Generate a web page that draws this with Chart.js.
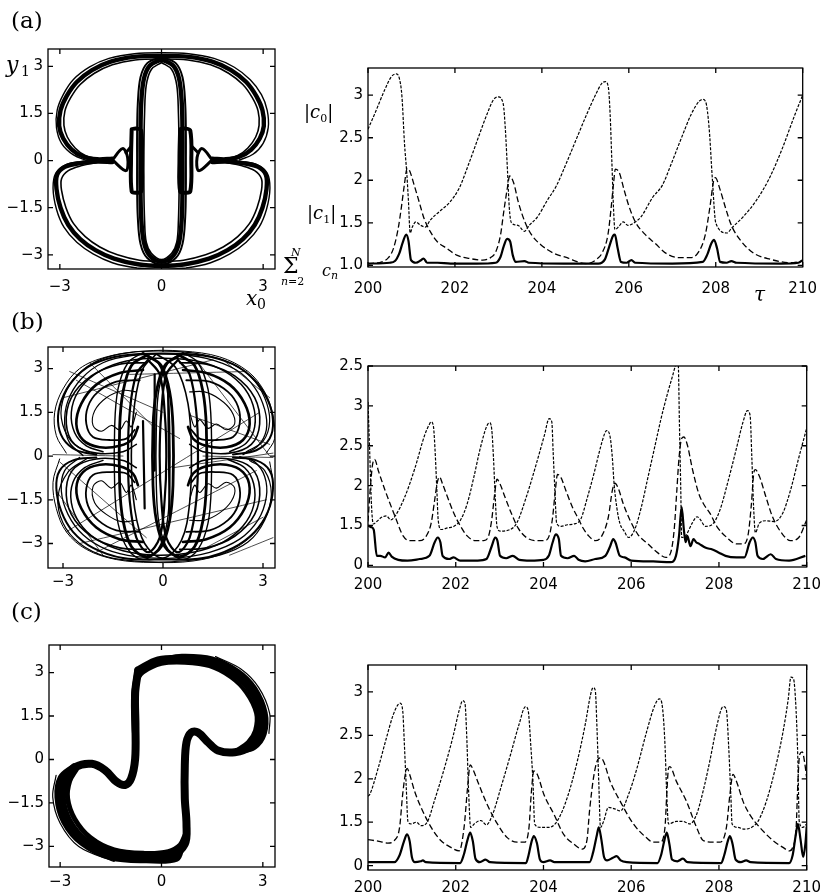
<!DOCTYPE html>
<html lang="en">
<head>
<meta charset="utf-8">
<title>Phase portraits and mode amplitudes</title>
<script src="https://cdn.jsdelivr.net/npm/chart.js@4.4.1/dist/chart.umd.min.js"></script>
<style>
html,body{margin:0;padding:0;background:#fff;}
body{width:830px;height:892px;position:relative;overflow:hidden;}
canvas{position:absolute;}
.t{position:absolute;font-family:"DejaVu Serif",serif;color:#000;line-height:1;white-space:nowrap;will-change:transform;}
.i{font-style:italic;}
</style>
</head>
<body>
<div class="t" style="left:11px;top:9px;font-size:23px">(a)</div>
<div class="t" style="left:11px;top:310px;font-size:23px">(b)</div>
<div class="t" style="left:11px;top:600px;font-size:23px">(c)</div>
<div class="t i" style="left:6px;top:54px;font-size:22px">y</div>
<div class="t" style="left:21px;top:64px;font-size:14px">1</div>
<div class="t i" style="left:246px;top:288px;font-size:20px">x</div>
<div class="t" style="left:257px;top:297px;font-size:14px">0</div>
<div class="t" style="left:304px;top:103px;font-size:18px">|<span class="i">c</span><span style="font-size:11px;position:relative;top:4px">0</span>|</div>
<div class="t" style="left:307px;top:204px;font-size:18px">|<span class="i">c</span><span style="font-size:11px;position:relative;top:4px">1</span>|</div>
<div class="t" style="left:283px;top:255px;font-size:22px">&Sigma;</div>
<div class="t i" style="left:291px;top:247px;font-size:11px">N</div>
<div class="t" style="left:281px;top:276px;font-size:11px"><span class="i">n</span>=2</div>
<div class="t i" style="left:322px;top:263px;font-size:16px">c</div>
<div class="t i" style="left:331px;top:270px;font-size:11px">n</div>
<div class="t i" style="left:754px;top:284px;font-size:20px">&tau;</div>
<script>
// ---------- tick values and labels ----------
const leftXTicks = [-3, 0, 3];
const leftXLabels = ['\u22123', '0', '3'];
const leftYTicks = [-3, -1.5, 0, 1.5, 3];
const leftYLabels = ['\u22123', '\u22121.5', '0', '1.5', '3'];
const timeTicks = [200, 202, 204, 206, 208, 210];
const timeLabels = ['200', '202', '204', '206', '208', '210'];
const aAmpTicks = [1, 1.5, 2, 2.5, 3];
const aAmpLabels = ['1.0', '1.5', '2', '2.5', '3'];
const bAmpTicks = [1, 1.5, 2, 2.5, 3, 3.5];
const bAmpLabels = ['0', '1.5', '2', '2.5', '3', '2.5'];
const cAmpTicks = [1, 1.5, 2, 2.5, 3];
const cAmpLabels = ['0', '1.5', '2', '2.5', '3'];

// ---------- (a) time series: [tau, value] ----------
const aC0 = [[200.0,2.60],[200.17,2.80],[200.39,3.07],[200.54,3.22],[200.65,3.25],[200.72,3.20],[200.78,2.99],[200.84,2.43],[200.89,2.10],[200.93,1.76],[200.97,1.38],[201.02,1.45],[201.1,1.51],[201.21,1.47],[201.32,1.45],[201.43,1.53],[201.66,1.64],[201.88,1.74],[202.1,1.91],[202.33,2.21],[202.55,2.52],[202.74,2.78],[202.89,2.95],[203.0,2.98],[203.11,2.90],[203.16,2.60],[203.21,2.10],[203.25,1.68],[203.3,1.50],[203.45,1.47],[203.6,1.40],[203.71,1.47],[203.9,1.57],[204.12,1.76],[204.34,1.94],[204.57,2.21],[204.79,2.48],[205.01,2.75],[205.24,3.01],[205.38,3.14],[205.46,3.16],[205.53,3.09],[205.57,2.78],[205.61,2.22],[205.65,1.65],[205.68,1.42],[205.76,1.45],[205.87,1.51],[205.98,1.47],[206.09,1.49],[206.28,1.57],[206.55,1.80],[206.77,1.94],[206.99,2.21],[207.22,2.51],[207.44,2.78],[207.62,2.93],[207.7,2.95],[207.77,2.92],[207.85,2.60],[207.92,2.03],[208.0,1.50],[208.26,1.38],[208.37,1.44],[208.63,1.57],[208.93,1.76],[209.23,2.02],[209.52,2.36],[209.82,2.77],[210.0,3.00]];
const aC1 = [[200.0,1.02],[200.32,1.04],[200.47,1.09],[200.58,1.19],[200.69,1.42],[200.77,1.69],[200.84,1.96],[200.9,2.14],[200.95,2.12],[201.07,1.93],[201.18,1.74],[201.29,1.55],[201.44,1.39],[201.59,1.28],[201.81,1.2],[202.04,1.12],[202.34,1.08],[202.64,1.06],[202.82,1.09],[202.94,1.16],[203.05,1.36],[203.12,1.62],[203.2,1.89],[203.26,2.05],[203.35,1.97],[203.46,1.74],[203.61,1.51],[203.76,1.36],[203.98,1.24],[204.28,1.14],[204.58,1.09],[204.88,1.03],[205.03,1.02],[205.26,1.07],[205.4,1.16],[205.52,1.36],[205.59,1.66],[205.65,1.97],[205.69,2.13],[205.78,2.09],[205.89,1.89],[206.0,1.7],[206.15,1.51],[206.38,1.36],[206.6,1.26],[206.86,1.14],[207.16,1.09],[207.42,1.09],[207.61,1.16],[207.76,1.36],[207.87,1.7],[207.95,1.99],[207.99,2.03],[208.1,1.89],[208.21,1.7],[208.36,1.47],[208.59,1.28],[208.88,1.14],[209.26,1.07],[209.71,1.03],[210.0,1.05]];
const aSum = [[200.0,1.02],[200.5,1.03],[200.62,1.05],[200.72,1.14],[200.8,1.27],[200.88,1.36],[200.93,1.29],[200.99,1.06],[201.1,1.03],[201.22,1.06],[201.28,1.08],[201.36,1.03],[201.6,1.03],[201.9,1.02],[202.5,1.02],[202.94,1.03],[203.05,1.10],[203.12,1.22],[203.2,1.31],[203.27,1.28],[203.33,1.12],[203.4,1.04],[203.6,1.05],[203.7,1.03],[204.5,1.02],[205.3,1.02],[205.45,1.07],[205.55,1.22],[205.64,1.35],[205.68,1.36],[205.74,1.21],[205.82,1.04],[205.95,1.03],[206.06,1.06],[206.15,1.03],[207.0,1.02],[207.7,1.04],[207.8,1.12],[207.9,1.26],[207.96,1.30],[208.03,1.20],[208.1,1.04],[208.25,1.03],[208.36,1.05],[208.48,1.03],[209.5,1.02],[209.9,1.03],[210.0,1.06]];

// ---------- (b) time series ----------
const bC0 = [[200.0,3.05],[200.04,2.4],[200.08,1.75],[200.12,1.52],[200.2,1.55],[200.3,1.6],[200.42,1.62],[200.52,1.57],[200.62,1.62],[200.84,1.86],[201.07,2.22],[201.29,2.63],[201.4,2.77],[201.44,2.80],[201.49,2.75],[201.53,2.43],[201.57,1.94],[201.6,1.57],[201.67,1.45],[201.81,1.47],[201.96,1.49],[202.11,1.57],[202.26,1.77],[202.41,2.10],[202.56,2.47],[202.71,2.75],[202.77,2.79],[202.82,2.71],[202.86,2.35],[202.9,1.86],[202.94,1.49],[203.01,1.43],[203.24,1.45],[203.39,1.53],[203.61,1.86],[203.83,2.26],[204.02,2.63],[204.13,2.84],[204.19,2.80],[204.22,2.43],[204.26,1.94],[204.3,1.53],[204.4,1.49],[204.55,1.51],[204.7,1.52],[204.85,1.58],[205.0,1.85],[205.15,2.15],[205.3,2.48],[205.4,2.66],[205.44,2.69],[205.52,2.61],[205.57,2.35],[205.61,2.02],[205.67,1.73],[205.74,1.53],[205.84,1.43],[205.94,1.35],[206.08,1.45],[206.23,1.73],[206.38,2.10],[206.53,2.47],[206.68,2.84],[206.83,3.16],[206.94,3.37],[207.02,3.52],[207.07,3.55],[207.1,2.75],[207.13,1.94],[207.15,1.35],[207.24,1.37],[207.39,1.53],[207.5,1.61],[207.58,1.57],[207.69,1.49],[207.84,1.51],[208.02,1.69],[208.21,2.06],[208.4,2.47],[208.55,2.80],[208.65,2.94],[208.71,2.88],[208.75,2.35],[208.79,1.73],[208.83,1.41],[208.92,1.53],[209.07,1.56],[209.26,1.55],[209.45,1.65],[209.63,1.94],[209.82,2.35],[210.0,2.72]];
const bC1 = [[200.0,1.55],[200.05,1.95],[200.1,2.25],[200.15,2.33],[200.24,2.18],[200.39,1.94],[200.62,1.61],[200.8,1.37],[200.95,1.31],[201.18,1.31],[201.33,1.37],[201.44,1.53],[201.52,1.82],[201.58,2.04],[201.63,2.11],[201.7,2.02],[201.81,1.86],[201.96,1.65],[202.11,1.49],[202.26,1.37],[202.45,1.31],[202.64,1.31],[202.75,1.37],[202.82,1.57],[202.88,1.86],[202.94,2.08],[203.01,2.02],[203.12,1.86],[203.27,1.65],[203.42,1.47],[203.61,1.35],[203.83,1.31],[204.02,1.31],[204.13,1.37],[204.21,1.61],[204.27,1.94],[204.32,2.14],[204.4,2.10],[204.51,1.94],[204.66,1.73],[204.81,1.57],[204.88,1.49],[205.03,1.37],[205.18,1.31],[205.33,1.37],[205.48,1.61],[205.57,1.94],[205.63,2.03],[205.71,1.96],[205.82,1.77],[205.97,1.57],[206.15,1.39],[206.38,1.27],[206.6,1.16],[206.79,1.10],[206.9,1.16],[206.98,1.45],[207.04,1.94],[207.09,2.35],[207.15,2.59],[207.2,2.61],[207.28,2.51],[207.39,2.22],[207.54,1.90],[207.65,1.77],[207.8,1.65],[207.95,1.49],[208.18,1.35],[208.4,1.27],[208.55,1.27],[208.66,1.37],[208.74,1.77],[208.79,2.14],[208.83,2.20],[208.92,2.12],[209.07,1.86],[209.22,1.61],[209.45,1.39],[209.63,1.31],[209.82,1.35],[210.0,1.57]];
const bSum = [[200.0,1.5],[200.07,1.48],[200.13,1.45],[200.2,1.12],[200.28,1.12],[200.39,1.10],[200.47,1.16],[200.54,1.11],[200.69,1.07],[200.9,1.06],[201.18,1.08],[201.4,1.12],[201.52,1.29],[201.59,1.35],[201.65,1.29],[201.7,1.12],[201.85,1.08],[201.95,1.10],[202.1,1.06],[202.5,1.06],[202.7,1.08],[202.82,1.24],[202.9,1.35],[202.95,1.31],[203.01,1.12],[203.15,1.09],[203.3,1.12],[203.45,1.07],[203.7,1.06],[204.0,1.07],[204.12,1.12],[204.21,1.29],[204.28,1.39],[204.35,1.33],[204.4,1.12],[204.55,1.09],[204.7,1.12],[204.8,1.07],[204.95,1.05],[205.18,1.08],[205.41,1.12],[205.52,1.24],[205.59,1.33],[205.64,1.29],[205.74,1.12],[205.85,1.10],[206.0,1.06],[206.5,1.05],[206.9,1.04],[207.02,1.12],[207.09,1.37],[207.15,1.73],[207.2,1.45],[207.24,1.29],[207.28,1.37],[207.35,1.24],[207.42,1.33],[207.48,1.29],[207.55,1.27],[207.7,1.22],[207.85,1.2],[208.0,1.16],[208.15,1.12],[208.4,1.10],[208.58,1.10],[208.7,1.29],[208.77,1.35],[208.83,1.29],[208.88,1.12],[209.0,1.08],[209.18,1.14],[209.3,1.08],[209.6,1.06],[209.97,1.12]];

// ---------- (c) time series ----------
const cC0 = [[200.0,1.80],[200.04,1.82],[200.23,2.12],[200.42,2.47],[200.57,2.73],[200.68,2.85],[200.73,2.87],[200.79,2.79],[200.83,2.39],[200.87,1.93],[200.91,1.51],[200.98,1.48],[201.1,1.50],[201.21,1.46],[201.36,1.51],[201.51,1.74],[201.74,2.12],[201.93,2.47],[202.08,2.79],[202.16,2.90],[202.21,2.87],[202.25,2.50],[202.29,1.90],[202.34,1.44],[202.42,1.48],[202.57,1.52],[202.7,1.47],[202.84,1.59],[203.03,1.90],[203.25,2.28],[203.44,2.62],[203.59,2.83],[203.65,2.79],[203.71,2.39],[203.76,1.97],[203.8,1.48],[203.93,1.44],[204.12,1.44],[204.31,1.51],[204.54,1.78],[204.77,2.20],[204.95,2.62],[205.07,2.96],[205.13,3.05],[205.18,3.02],[205.22,2.58],[205.26,1.97],[205.3,1.44],[205.37,1.51],[205.48,1.67],[205.64,1.65],[205.75,1.63],[205.94,1.82],[206.13,2.12],[206.35,2.54],[206.54,2.85],[206.64,2.92],[206.69,2.89],[206.73,2.73],[206.77,2.39],[206.81,1.82],[206.85,1.48],[207.03,1.51],[207.18,1.51],[207.34,1.48],[207.49,1.59],[207.64,1.86],[207.79,2.20],[207.94,2.58],[208.06,2.81],[208.11,2.83],[208.17,2.79],[208.22,2.39],[208.27,1.82],[208.3,1.48],[208.43,1.44],[208.58,1.42],[208.74,1.44],[208.89,1.51],[209.08,1.74],[209.27,2.09],[209.46,2.54],[209.58,2.92],[209.64,3.17],[209.7,3.15],[209.76,2.77],[209.8,2.20],[209.83,1.51],[209.91,1.44],[210.0,1.48]];
const cC1 = [[200.0,1.30],[200.25,1.28],[200.45,1.26],[200.6,1.29],[200.72,1.44],[200.79,1.82],[200.85,2.05],[200.89,2.12],[200.95,2.05],[201.06,1.86],[201.21,1.67],[201.44,1.44],[201.66,1.29],[201.89,1.21],[202.08,1.17],[202.19,1.44],[202.27,1.90],[202.33,2.16],[202.4,2.10],[202.5,1.97],[202.72,1.70],[202.95,1.48],[203.18,1.32],[203.4,1.27],[203.56,1.27],[203.67,1.44],[203.72,1.82],[203.78,2.09],[203.86,2.05],[204.01,1.82],[204.24,1.59],[204.46,1.36],[204.69,1.25],[204.88,1.19],[204.99,1.29],[205.05,1.63],[205.14,2.01],[205.22,2.20],[205.3,2.24],[205.37,2.20],[205.52,1.97],[205.75,1.74],[206.05,1.48],[206.35,1.32],[206.5,1.27],[206.66,1.27],[206.77,1.44],[206.81,1.82],[206.85,2.12],[206.88,2.14],[207.03,1.97],[207.26,1.74],[207.49,1.44],[207.64,1.29],[207.87,1.27],[208.02,1.27],[208.17,1.44],[208.25,1.82],[208.32,2.05],[208.4,1.97],[208.55,1.74],[208.7,1.59],[208.93,1.44],[209.23,1.29],[209.46,1.21],[209.61,1.17],[209.68,1.21],[209.76,1.44],[209.8,1.97],[209.84,2.28],[209.9,2.31],[209.95,2.20],[210.0,2.01]];
const cSum = [[200.0,1.04],[200.6,1.04],[200.72,1.12],[200.82,1.28],[200.89,1.36],[200.95,1.28],[201.0,1.10],[201.07,1.04],[201.2,1.05],[201.25,1.06],[201.32,1.04],[202.1,1.03],[202.18,1.12],[202.27,1.30],[202.33,1.38],[202.39,1.28],[202.45,1.08],[202.55,1.04],[202.68,1.07],[202.78,1.04],[203.6,1.03],[203.66,1.12],[203.73,1.28],[203.78,1.34],[203.85,1.26],[203.92,1.07],[204.0,1.04],[204.15,1.06],[204.25,1.04],[205.05,1.04],[205.13,1.15],[205.22,1.36],[205.26,1.44],[205.32,1.30],[205.38,1.10],[205.45,1.06],[205.58,1.09],[205.67,1.11],[205.76,1.06],[205.9,1.04],[206.6,1.03],[206.68,1.12],[206.76,1.30],[206.81,1.38],[206.87,1.25],[206.93,1.07],[207.05,1.05],[207.18,1.08],[207.28,1.04],[208.05,1.03],[208.12,1.12],[208.2,1.28],[208.25,1.34],[208.31,1.25],[208.38,1.07],[208.5,1.04],[208.62,1.06],[208.72,1.04],[209.6,1.03],[209.68,1.12],[209.75,1.35],[209.8,1.48],[209.86,1.30],[209.92,1.10],[209.97,1.25],[210.0,1.45]];

// ---------- (a) phase portrait curves: [x0, y1] ----------
const aUpper = [[-1.45,0.06],[-1.9,0.04],[-2.3,0.12],[-2.65,0.35],[-2.9,0.7],[-3.02,1.1],[-2.98,1.6],[-2.8,2.05],[-2.5,2.5],[-2.05,2.88],[-1.5,3.15],[-0.8,3.3],[0,3.33],[0.8,3.3],[1.5,3.15],[2.05,2.88],[2.5,2.5],[2.8,2.05],[2.98,1.6],[3.02,1.1],[2.9,0.7],[2.65,0.35],[2.3,0.12],[1.9,0.04],[1.5,0.06]];
const aUpperOut = [[-2.2,0.0],[-2.6,0.18],[-2.95,0.55],[-3.1,1.05],[-3.08,1.6],[-2.9,2.1],[-2.6,2.58],[-2.12,2.98],[-1.55,3.25],[-0.8,3.4],[0,3.43],[0.8,3.4],[1.55,3.25],[2.15,2.97],[2.62,2.57],[2.95,2.1],[3.12,1.6],[3.15,1.05],[3.0,0.55],[2.7,0.2],[2.3,0.02]];
const aUpperIn = [[-1.9,0.06],[-2.25,0.16],[-2.55,0.4],[-2.78,0.75],[-2.88,1.12],[-2.85,1.58],[-2.68,2.0],[-2.4,2.42],[-1.98,2.78],[-1.45,3.05],[-0.78,3.2],[0,3.23],[0.78,3.2],[1.45,3.05],[1.98,2.78],[2.4,2.42],[2.68,2.0],[2.85,1.58],[2.88,1.12],[2.78,0.75],[2.55,0.4],[2.25,0.16],[1.9,0.06]];
const aLower = [[-1.45,-0.05],[-1.9,-0.03],[-2.4,-0.08],[-2.85,-0.2],[-3.08,-0.45],[-3.1,-0.9],[-2.98,-1.5],[-2.75,-2.05],[-2.4,-2.5],[-1.95,-2.85],[-1.4,-3.12],[-0.7,-3.3],[0,-3.35],[0.7,-3.3],[1.4,-3.12],[1.95,-2.85],[2.4,-2.5],[2.75,-2.05],[2.98,-1.5],[3.1,-0.9],[3.08,-0.45],[2.85,-0.2],[2.4,-0.08],[1.9,-0.03],[1.5,-0.05]];
const aLowerOut = [[-2.3,-0.02],[-2.8,-0.12],[-3.12,-0.4],[-3.2,-0.9],[-3.1,-1.55],[-2.88,-2.12],[-2.5,-2.6],[-2.02,-2.97],[-1.45,-3.25],[-0.72,-3.42],[0,-3.46],[0.72,-3.42],[1.45,-3.25],[2.02,-2.97],[2.5,-2.6],[2.88,-2.12],[3.1,-1.55],[3.2,-0.9],[3.12,-0.4],[2.8,-0.12],[2.3,-0.02]];
const aLowerIn = [[-1.9,-0.06],[-2.35,-0.16],[-2.75,-0.32],[-2.95,-0.58],[-2.95,-0.95],[-2.82,-1.5],[-2.6,-2.0],[-2.25,-2.42],[-1.82,-2.75],[-1.3,-3.0],[-0.65,-3.17],[0,-3.2],[0.65,-3.17],[1.3,-3.0],[1.82,-2.75],[2.25,-2.42],[2.6,-2.0],[2.82,-1.5],[2.95,-0.95],[2.95,-0.58],[2.75,-0.32],[2.35,-0.16],[1.9,-0.06]];
const aEllipse = [[0,3.22],[0.35,3.02],[0.52,2.6],[0.6,1.8],[0.62,0.8],[0.62,0],[0.62,-0.8],[0.6,-1.8],[0.52,-2.6],[0.35,-3.02],[0,-3.22],[-0.35,-3.02],[-0.52,-2.6],[-0.6,-1.8],[-0.62,-0.8],[-0.62,0],[-0.62,0.8],[-0.6,1.8],[-0.52,2.6],[-0.35,3.02],[0,3.22]];
const aEllipseOut = [[0,3.3],[0.42,3.1],[0.62,2.65],[0.7,1.8],[0.72,0.8],[0.72,0],[0.72,-0.8],[0.7,-1.8],[0.62,-2.65],[0.42,-3.1],[0,-3.3],[-0.42,-3.1],[-0.62,-2.65],[-0.7,-1.8],[-0.72,-0.8],[-0.72,0],[-0.72,0.8],[-0.7,1.8],[-0.62,2.65],[-0.42,3.1],[0,3.3]];
const aEllipseIn = [[0,3.12],[0.3,2.9],[0.45,2.4],[0.5,1.5],[0.52,0.3],[0.52,-0.9],[0.5,-1.9],[0.45,-2.6],[0.3,-2.95],[0,-3.15],[-0.3,-2.95],[-0.45,-2.6],[-0.5,-1.9],[-0.52,-0.9],[-0.52,0.3],[-0.5,1.5],[-0.45,2.4],[-0.3,2.9],[0,3.12]];
const aBarLeft = [[-0.88,1.0],[-0.75,1.02],[-0.6,0.95],[-0.58,0],[-0.6,-0.98],[-0.75,-1.02],[-0.88,-0.98],[-0.9,0],[-0.88,1.0]];
const aBarRight = [[0.55,1.0],[0.7,1.02],[0.85,0.95],[0.88,0],[0.85,-0.98],[0.7,-1.02],[0.55,-0.98],[0.53,0],[0.55,1.0]];
const aTriLeft = [[-1.45,0.02],[-1.15,0.38],[-1.0,0.1],[-1.05,-0.32],[-1.45,0.02]];
const aTriRight = [[1.5,0.02],[1.2,0.38],[1.05,0.1],[1.1,-0.32],[1.5,0.02]];
const aLinkLeft = [[-1.05,0.25],[-0.9,0.45]];
const aLinkRight = [[1.08,0.25],[0.9,0.45]];

// ---------- (b) phase portrait curves ----------
const bUp1 = [[-2.0,0.05],[-2.6,0.2],[-3.0,0.6],[-3.15,1.2],[-3.05,1.9],[-2.7,2.6],[-2.1,3.15],[-1.2,3.45],[0,3.52],[1.2,3.45],[2.1,3.15],[2.75,2.6],[3.15,1.9],[3.3,1.2],[3.2,0.6],[2.8,0.2],[2.1,0.05]];
const bUp2 = [[-2.4,0.02],[-2.8,0.45],[-2.95,1.1],[-2.85,1.9],[-2.45,2.65],[-1.8,3.2],[-0.9,3.45],[0.2,3.5],[1.3,3.35],[2.2,2.95],[2.75,2.35],[3.05,1.6],[3.1,0.9],[2.85,0.35],[2.4,0.05]];
const bUp3 = [[-2.9,0.1],[-3.2,0.7],[-3.25,1.5],[-3.0,2.3],[-2.5,3.0],[-1.7,3.4],[-0.6,3.6],[0.6,3.6],[1.7,3.4],[2.55,2.9],[3.05,2.2],[3.3,1.4],[3.35,0.6],[3.1,0.1]];
const bUp4 = [[-1.8,0.15],[-2.3,0.35],[-2.65,0.8],[-2.75,1.5],[-2.55,2.2],[-2.05,2.8],[-1.3,3.2],[-0.3,3.35],[0.8,3.3],[1.7,3.0],[2.35,2.45],[2.7,1.75],[2.75,1.0],[2.5,0.45],[2.0,0.15]];
const bUp5 = [[-2.2,0.1],[-2.75,0.5],[-3.05,1.3],[-2.95,2.1],[-2.55,2.8],[-1.9,3.3],[-1.0,3.55],[0.1,3.6],[1.1,3.5],[2.0,3.2],[2.65,2.7],[3.05,2.0],[3.2,1.2],[3.0,0.5],[2.5,0.15]];
const bLo1 = [[-2.0,-0.05],[-2.7,-0.15],[-3.1,-0.5],[-3.2,-1.1],[-3.05,-1.9],[-2.7,-2.6],[-2.1,-3.15],[-1.2,-3.5],[0,-3.55],[1.2,-3.5],[2.1,-3.15],[2.75,-2.6],[3.15,-1.9],[3.3,-1.1],[3.2,-0.5],[2.8,-0.15],[2.1,-0.05]];
const bLo2 = [[-2.5,-0.05],[-2.95,-0.5],[-3.05,-1.2],[-2.85,-2.0],[-2.4,-2.7],[-1.7,-3.2],[-0.8,-3.45],[0.3,-3.5],[1.4,-3.3],[2.3,-2.85],[2.85,-2.2],[3.1,-1.4],[3.05,-0.7],[2.75,-0.2],[2.3,-0.02]];
const bLo3 = [[-3.1,-0.1],[-3.3,-0.9],[-3.2,-1.8],[-2.9,-2.6],[-2.3,-3.2],[-1.4,-3.55],[-0.3,-3.65],[0.9,-3.6],[1.9,-3.3],[2.7,-2.7],[3.15,-1.9],[3.3,-1.0],[3.2,-0.2]];
const bLo4 = [[-1.8,-0.15],[-2.35,-0.4],[-2.7,-0.9],[-2.75,-1.6],[-2.5,-2.3],[-2.0,-2.85],[-1.2,-3.25],[-0.2,-3.4],[0.9,-3.3],[1.8,-2.95],[2.4,-2.4],[2.72,-1.7],[2.72,-0.95],[2.45,-0.4],[1.95,-0.12]];
const bLo5 = [[-2.3,-0.1],[-2.85,-0.55],[-3.15,-1.4],[-3.0,-2.3],[-2.5,-3.0],[-1.7,-3.45],[-0.6,-3.62],[0.6,-3.6],[1.7,-3.4],[2.55,-2.95],[3.05,-2.2],[3.25,-1.3],[3.05,-0.5],[2.6,-0.15]];
const bCen1 = [[-0.5,3.45],[-0.05,3.1],[0.2,2.2],[0.3,1.0],[0.3,-1.0],[0.2,-2.2],[-0.05,-3.1],[-0.5,-3.45],[-0.95,-3.1],[-1.2,-2.2],[-1.3,-1.0],[-1.3,1.0],[-1.2,2.2],[-0.95,3.1],[-0.5,3.45]];
const bCen2 = [[0.5,3.45],[0.95,3.1],[1.2,2.2],[1.3,1.0],[1.3,-1.0],[1.2,-2.2],[0.95,-3.1],[0.5,-3.45],[0.05,-3.1],[-0.2,-2.2],[-0.3,-1.0],[-0.3,1.0],[-0.2,2.2],[0.05,3.1],[0.5,3.45]];
const bCen3 = [[-0.45,3.3],[-0.1,2.8],[0.05,1.5],[0.1,0],[0.05,-1.5],[-0.1,-2.8],[-0.45,-3.3],[-0.8,-2.8],[-1.0,-1.5],[-1.05,0],[-1.0,1.5],[-0.8,2.8],[-0.45,3.3]];
const bCen4 = [[0.45,3.3],[0.8,2.8],[1.0,1.5],[1.05,0],[1.0,-1.5],[0.8,-2.8],[0.45,-3.3],[0.1,-2.8],[-0.05,-1.5],[-0.1,0],[-0.05,1.5],[0.1,2.8],[0.45,3.3]];
const bCen5 = [[-0.2,3.5],[0.4,3.0],[0.75,1.8],[0.85,0.2],[0.8,-1.6],[0.55,-2.9],[0.0,-3.5],[-0.55,-3.0],[-0.85,-1.8],[-0.95,0.0],[-0.85,1.8],[-0.6,3.0],[-0.2,3.5]];
const bCen6 = [[-0.6,3.55],[-0.15,3.2],[0.12,2.3],[0.2,1.0],[0.2,-1.0],[0.12,-2.3],[-0.15,-3.2],[-0.6,-3.55],[-1.05,-3.2],[-1.35,-2.3],[-1.45,-1.0],[-1.45,1.0],[-1.35,2.3],[-1.05,3.2],[-0.6,3.55]];
const bCen7 = [[0.6,3.55],[1.05,3.2],[1.35,2.3],[1.45,1.0],[1.45,-1.0],[1.35,-2.3],[1.05,-3.2],[0.6,-3.55],[0.15,-3.2],[-0.12,-2.3],[-0.2,-1.0],[-0.2,1.0],[-0.12,2.3],[0.15,3.2],[0.6,3.55]];
const bHeart1 = [[-0.6,2.95],[-1.3,2.85],[-2.0,2.45],[-2.45,1.8],[-2.6,1.1],[-2.4,0.55],[-1.9,0.3],[-1.3,0.35],[-0.9,0.6],[-0.75,1.0]];
const bHeart1o = [[-0.5,3.2],[-1.3,3.15],[-2.15,2.75],[-2.75,2.0],[-2.9,1.1],[-2.65,0.4],[-2.0,0.1],[-1.2,0.15],[-0.8,0.4]];
const bHeart1m = [[-0.7,2.6],[-1.4,2.55],[-1.95,2.2],[-2.25,1.7],[-2.3,1.1],[-2.1,0.65],[-1.6,0.55],[-1.1,0.6],[-0.85,0.9]];
const bHeart1i = [[-0.8,2.2],[-1.2,2.25],[-1.7,2.0],[-2.05,1.55],[-2.1,1.05],[-1.85,0.85],[-1.55,1.05],[-1.3,0.9],[-1.1,1.2],[-0.95,1.0],[-0.8,1.5]];
const bHeart2 = [[0.6,2.95],[1.3,2.85],[2.0,2.45],[2.45,1.8],[2.6,1.1],[2.4,0.55],[1.9,0.3],[1.3,0.35],[0.9,0.6],[0.75,1.0]];
const bHeart2o = [[0.5,3.2],[1.3,3.15],[2.15,2.75],[2.75,2.0],[2.9,1.1],[2.65,0.4],[2.0,0.1],[1.2,0.15],[0.8,0.4]];
const bHeart2m = [[0.7,2.6],[1.4,2.55],[1.95,2.2],[2.25,1.7],[2.3,1.1],[2.1,0.65],[1.6,0.55],[1.1,0.6],[0.85,0.9]];
const bHeart2i = [[0.8,2.2],[1.25,2.2],[1.7,1.95],[2.05,1.55],[2.15,1.1],[1.9,0.9],[1.6,1.1],[1.35,0.95],[1.1,1.25],[0.95,1.0],[0.8,1.5]];
const bHeart3 = [[-0.6,-2.95],[-1.3,-2.85],[-2.0,-2.45],[-2.45,-1.8],[-2.6,-1.1],[-2.4,-0.55],[-1.9,-0.3],[-1.3,-0.35],[-0.9,-0.6],[-0.75,-1.0]];
const bHeart3o = [[-0.5,-3.2],[-1.3,-3.15],[-2.15,-2.75],[-2.75,-2.0],[-2.9,-1.1],[-2.65,-0.4],[-2.0,-0.1],[-1.2,-0.15],[-0.8,-0.4]];
const bHeart3m = [[-0.7,-2.6],[-1.4,-2.55],[-1.95,-2.2],[-2.25,-1.7],[-2.3,-1.1],[-2.1,-0.65],[-1.6,-0.55],[-1.1,-0.6],[-0.85,-0.9]];
const bHeart3i = [[-0.8,-2.2],[-1.25,-2.25],[-1.7,-2.0],[-2.05,-1.6],[-2.1,-1.05],[-1.85,-0.85],[-1.55,-1.1],[-1.3,-0.9],[-1.1,-1.25],[-0.95,-1.0],[-0.8,-1.5]];
const bHeart4 = [[0.6,-2.95],[1.3,-2.85],[2.0,-2.45],[2.45,-1.8],[2.6,-1.1],[2.4,-0.55],[1.9,-0.3],[1.3,-0.35],[0.9,-0.6],[0.75,-1.0]];
const bHeart4o = [[0.5,-3.2],[1.3,-3.15],[2.15,-2.75],[2.75,-2.0],[2.9,-1.1],[2.65,-0.4],[2.0,-0.1],[1.2,-0.15],[0.8,-0.4]];
const bHeart4m = [[0.7,-2.6],[1.4,-2.55],[1.95,-2.2],[2.25,-1.7],[2.3,-1.1],[2.1,-0.65],[1.6,-0.55],[1.1,-0.6],[0.85,-0.9]];
const bHeart4i = [[0.8,-2.2],[1.25,-2.2],[1.7,-1.95],[2.05,-1.55],[2.15,-1.1],[1.9,-0.9],[1.6,-1.1],[1.35,-0.95],[1.1,-1.25],[0.95,-1.0],[0.8,-1.5]];
const bStrays = [
  [[-2.9,-2.6],[2.9,1.5]], [[-3.0,2.0],[1.5,3.3]], [[1.0,3.3],[3.2,0.0]], [[-2.5,-3.0],[3.1,-1.5]],
  [[-1.0,2.8],[2.5,2.9]], [[0.3,-0.4],[3.3,0.1]], [[-3.1,-0.2],[-0.5,-2.8]], [[-2.6,2.6],[0.5,0.6]],
  [[1.2,-3.2],[3.0,-2.1]], [[-2.0,-3.3],[2.8,-0.5]], [[-2.2,3.2],[-0.2,0.9]], [[0.8,1.4],[3.2,0.4]],
  [[-3.3,0.05],[-1.2,0.0]], [[1.2,0.0],[3.3,-0.05]], [[-2.8,2.9],[0.0,1.5]], [[1.8,3.3],[3.2,2.0]],
  [[2.0,-3.4],[3.3,-2.8]], [[-3.2,-1.2],[-1.8,-3.4]]
];
const bCore = [[[-0.25,2.8],[-0.25,-0.5]], [[0.15,2.5],[0.2,-2.0]], [[-0.6,1.2],[-0.55,-1.8]]];

// ---------- (c) phase portrait curves ----------
const cMid = [[-0.69,3.08],[-0.10,3.42],[0.69,3.47],[1.47,3.36],[2.17,2.96],[2.65,2.40],[2.95,1.61],[2.90,0.93],[2.65,0.47],[2.17,0.25],[1.67,0.31],[1.38,0.59],[1.08,0.93],[0.88,0.93],[0.74,0.59],[0.69,-0.20],[0.69,-1.34],[0.74,-2.24],[0.69,-2.92],[0.29,-3.32],[-0.49,-3.37],[-1.47,-3.26],[-2.26,-2.81],[-2.75,-2.13],[-2.95,-1.34],[-2.85,-0.66],[-2.55,-0.26],[-2.06,-0.15],[-1.67,-0.37],[-1.33,-0.77],[-1.08,-0.88],[-0.90,-0.66],[-0.78,0.02],[-0.77,1.15],[-0.78,2.29],[-0.69,3.08]];
const cOutTop = [[0.0,3.44],[0.6,3.56],[1.5,3.47],[2.25,3.05],[2.76,2.45],[3.07,1.6],[3.04,0.88],[2.75,0.42],[2.25,0.26]];
const cEdgeTop = [[1.6,3.55],[2.35,3.12],[2.88,2.48],[3.2,1.6],[3.18,0.9]];
const cInTop = [[-0.74,2.7],[-0.55,3.0],[0.0,3.3],[0.69,3.34],[1.42,3.22],[2.05,2.84],[2.5,2.32],[2.8,1.6],[2.77,1.0],[2.56,0.6],[2.2,0.3]];
const cOutBot = [[0.6,-3.0],[0.45,-3.42],[-0.45,-3.48],[-1.5,-3.38],[-2.36,-2.88],[-2.88,-2.15],[-3.08,-1.3],[-2.98,-0.62],[-2.6,-0.24]];
const cEdgeBot = [[-1.4,-3.52],[-2.45,-3.0],[-3.0,-2.2],[-3.22,-1.3],[-3.12,-0.55]];
const cInBot = [[0.7,-2.6],[0.55,-2.95],[0.2,-3.18],[-0.5,-3.24],[-1.4,-3.12],[-2.1,-2.7],[-2.57,-2.05],[-2.78,-1.34],[-2.72,-0.75],[-2.5,-0.3]];
const cStemTop = [[-0.74,3.05],[-0.84,2.2],[-0.83,1.2],[-0.78,0.4]];

// ---------- helpers ----------
Chart.defaults.font.family = '"DejaVu Sans", sans-serif';
Chart.defaults.font.size = 15;
Chart.defaults.color = '#000';

const toPts = arr => arr.map(p => ({x: p[0], y: p[1]}));
function curve(arr, w) {
  return {data: toPts(arr), showLine: true, borderColor: '#000', backgroundColor: '#000',
    borderWidth: w, pointRadius: 0, pointHoverRadius: 0,
    tension: 0.35, fill: false, borderCapStyle: 'round', borderJoinStyle: 'round'};
}
function series(arr, w, dash) {
  return {data: toPts(arr), showLine: true, borderColor: '#000', borderWidth: w,
    borderDash: dash || [], pointRadius: 0, pointHoverRadius: 0,
    cubicInterpolationMode: 'monotone', fill: false};
}

const framePlugin = {
  id: 'frame',
  afterDatasetsDraw(chart) {
    const {ctx, chartArea: a, scales} = chart;
    ctx.save();
    ctx.strokeStyle = '#000';
    ctx.lineWidth = 1.3;
    ctx.setLineDash([]);
    ctx.strokeRect(a.left, a.top, a.right - a.left, a.bottom - a.top);
    const L = 5;
    ctx.beginPath();
    scales.x.ticks.forEach(t => {
      const px = scales.x.getPixelForValue(t.value);
      ctx.moveTo(px, a.bottom); ctx.lineTo(px, a.bottom - L);
      ctx.moveTo(px, a.top); ctx.lineTo(px, a.top + L);
    });
    scales.y.ticks.forEach(t => {
      const py = scales.y.getPixelForValue(t.value);
      ctx.moveTo(a.left, py); ctx.lineTo(a.left + L, py);
      ctx.moveTo(a.right, py); ctx.lineTo(a.right - L, py);
    });
    ctx.stroke();
    ctx.restore();
  }
};

function panel(cfg) {
  const PT = 10, AXB = 34;
  const cw = cfg.axl + cfg.box.w + cfg.pr, ch = PT + cfg.box.h + AXB;
  const c = document.createElement('canvas');
  c.width = cw; c.height = ch;
  c.style.left = (cfg.box.l - cfg.axl) + 'px';
  c.style.top = (cfg.box.t - PT) + 'px';
  c.style.width = cw + 'px'; c.style.height = ch + 'px';
  document.body.appendChild(c);
  new Chart(c, {
    type: 'scatter',
    data: {datasets: cfg.datasets},
    options: {
      responsive: false, animation: false, devicePixelRatio: 1,
      events: [],
      layout: {padding: {left: 0, top: PT, right: cfg.pr, bottom: 0}},
      plugins: {legend: {display: false}, tooltip: {enabled: false}},
      scales: {
        x: {type: 'linear', min: cfg.xr[0], max: cfg.xr[1],
          grid: {display: false, drawTicks: false}, border: {display: false},
          afterBuildTicks: s => { s.ticks = cfg.xt.map(v => ({value: v})); },
          afterFit: s => { s.height = AXB; },
          ticks: {autoSkip: false, maxRotation: 0, minRotation: 0, padding: cfg.xpad, color: '#000',
            callback: (v, i) => cfg.xl[i]}},
        y: {type: 'linear', min: cfg.yr[0], max: cfg.yr[1],
          grid: {display: false, drawTicks: false}, border: {display: false},
          afterBuildTicks: s => { s.ticks = cfg.yt.map(v => ({value: v})); },
          afterFit: s => { s.width = cfg.axl; },
          ticks: {autoSkip: false, padding: 5, color: '#000',
            callback: (v, i) => cfg.yl[i]}}
      }
    },
    plugins: [framePlugin]
  });
}

// ---------- (a) ----------
panel({box: {l: 48, t: 45, w: 227, h: 224}, axl: 48, pr: 20, xpad: 9,
  xr: [-3.35, 3.35], yr: [-3.45, 3.55], xt: leftXTicks, xl: leftXLabels, yt: leftYTicks, yl: leftYLabels,
  datasets: [curve(aUpperOut, 1.4), curve(aUpperIn, 1.6), curve(aUpper, 4.4),
    curve(aLowerOut, 1.4), curve(aLowerIn, 1.6), curve(aLower, 4.4),
    curve(aEllipseOut, 2), curve(aEllipseIn, 1.6), curve(aEllipse, 4.4),
    curve(aBarLeft, 4), curve(aBarRight, 4), curve(aTriLeft, 3), curve(aTriRight, 3),
    curve(aLinkLeft, 3), curve(aLinkRight, 3)]});
panel({box: {l: 368, t: 64, w: 445, h: 203}, axl: 60, pr: 17, xpad: 13,
  xr: [200, 210], yr: [0.98, 3.32], xt: timeTicks, xl: timeLabels, yt: aAmpTicks, yl: aAmpLabels,
  datasets: [series(aC0, 1.2, [3, 1.5]), series(aC1, 1.3, [6, 3]), series(aSum, 2.2)]});

// ---------- (b) ----------
const bSets = [curve(bUp1, 2), curve(bUp2, 1.3), curve(bUp3, 1), curve(bUp4, 1.5), curve(bUp5, 1.2),
  curve(bLo1, 2), curve(bLo2, 1.3), curve(bLo3, 1), curve(bLo4, 1.5), curve(bLo5, 1.2),
  curve(bCen1, 2.8), curve(bCen2, 2.8), curve(bCen3, 2.2), curve(bCen4, 2.2), curve(bCen5, 1.6),
  curve(bCen6, 1.4), curve(bCen7, 1.4),
  curve(bHeart1, 2.6), curve(bHeart1o, 1.6), curve(bHeart1m, 1.8), curve(bHeart1i, 1.1),
  curve(bHeart2, 2.6), curve(bHeart2o, 1.6), curve(bHeart2m, 1.8), curve(bHeart2i, 1.1),
  curve(bHeart3, 2.6), curve(bHeart3o, 1.6), curve(bHeart3m, 1.8), curve(bHeart3i, 1.1),
  curve(bHeart4, 2.6), curve(bHeart4o, 1.6), curve(bHeart4m, 1.8), curve(bHeart4i, 1.1)];
bStrays.forEach(s => bSets.push(curve(s, 0.7)));
bCore.forEach(s => bSets.push(curve(s, 2.2)));
panel({box: {l: 48, t: 343, w: 227, h: 225}, axl: 48, pr: 20, xpad: 5,
  xr: [-3.45, 3.36], yr: [-3.84, 3.74], xt: leftXTicks, xl: leftXLabels, yt: leftYTicks, yl: leftYLabels,
  datasets: bSets});
panel({box: {l: 368, t: 362, w: 445, h: 205}, axl: 60, pr: 17, xpad: 9,
  xr: [200, 210], yr: [0.98, 3.5], xt: timeTicks, xl: timeLabels, yt: bAmpTicks, yl: bAmpLabels,
  datasets: [series(bC0, 1.2, [3, 1.5]), series(bC1, 1.3, [6, 3]), series(bSum, 2.2)]});

// ---------- (c) ----------
panel({box: {l: 49, t: 641, w: 226, h: 226}, axl: 49, pr: 20, xpad: 6,
  xr: [-3.33, 3.36], yr: [-3.71, 3.95], xt: leftXTicks, xl: leftXLabels, yt: leftYTicks, yl: leftYLabels,
  datasets: [curve(cMid, 8), curve(cOutTop, 5), curve(cInTop, 4), curve(cEdgeTop, 1.2),
    curve(cOutBot, 6), curve(cInBot, 5), curve(cEdgeBot, 1.2), curve(cStemTop, 4)]});
panel({box: {l: 368, t: 661, w: 445, h: 209}, axl: 60, pr: 17, xpad: 9,
  xr: [200, 210], yr: [0.95, 3.31], xt: timeTicks, xl: timeLabels, yt: cAmpTicks, yl: cAmpLabels,
  datasets: [series(cC0, 1.2, [3, 1.5]), series(cC1, 1.3, [6, 3]), series(cSum, 2.2)]});
</script>
</body>
</html>
